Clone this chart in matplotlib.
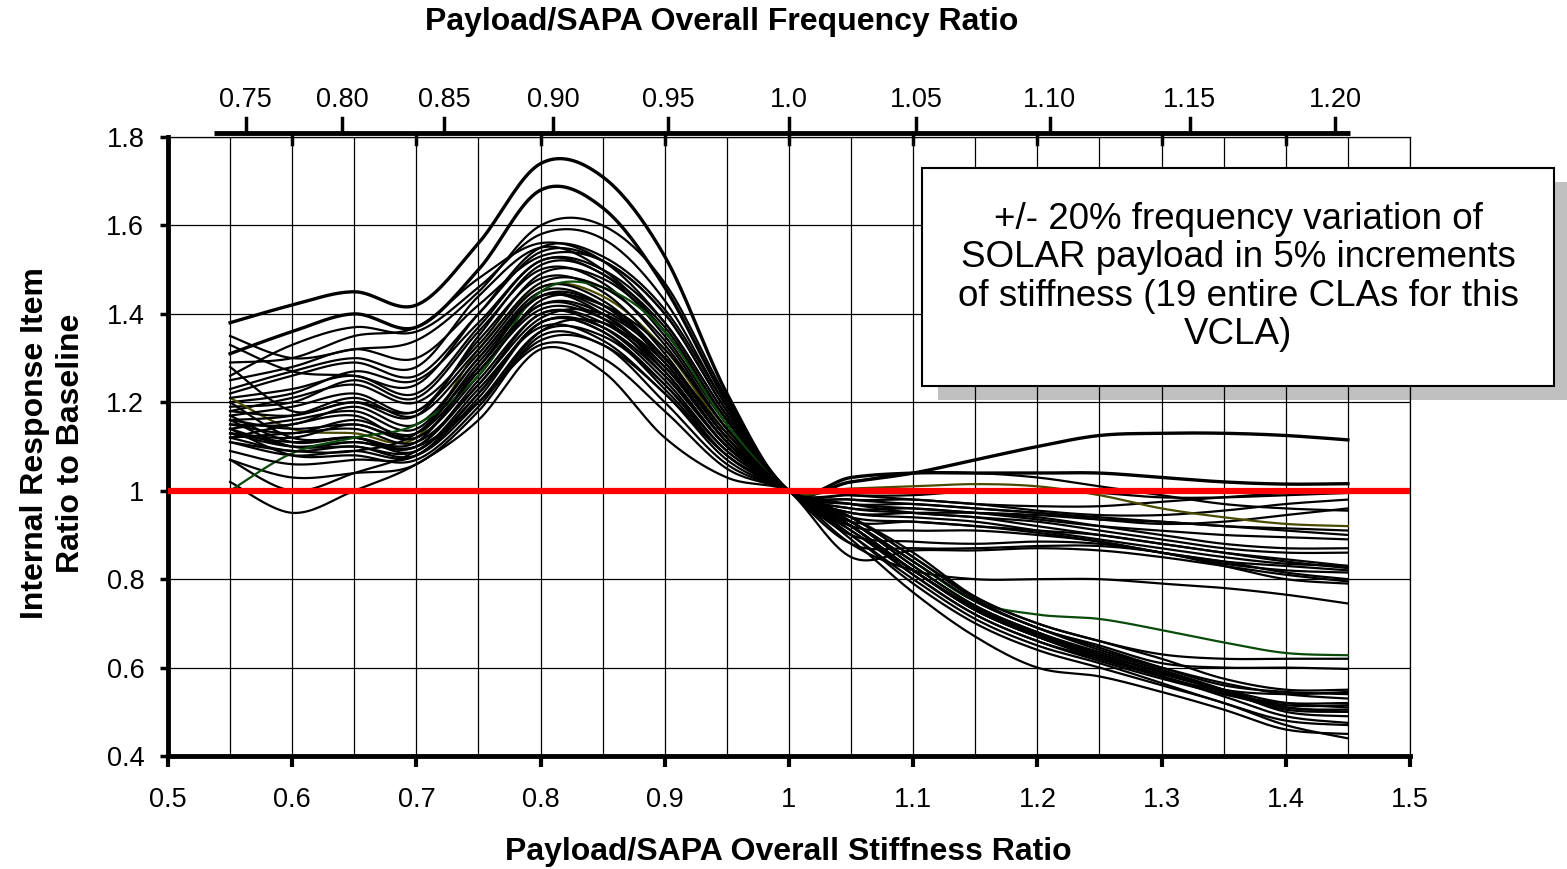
import numpy as np
import matplotlib
matplotlib.use("Agg")
import matplotlib.pyplot as plt
from matplotlib.patches import Rectangle

plt.rcParams['font.family'] = ['Liberation Sans', 'DejaVu Sans']

# stiffness ratio of the 19 CLAs
stiffness = [0.55, 0.60, 0.65, 0.70, 0.75, 0.80, 0.85, 0.90, 0.95, 1.00,
             1.05, 1.10, 1.15, 1.20, 1.25, 1.30, 1.35, 1.40, 1.45]

# response items that stay near baseline above 1.0 stiffness
upper_curves = [
    [1.38, 1.42, 1.45, 1.42, 1.56, 1.74, 1.71, 1.53, 1.22, 1.0, 1.03, 1.04, 1.04, 1.04, 1.04, 1.03, 1.02, 1.015, 1.016],
    [1.31, 1.36, 1.40, 1.37, 1.50, 1.68, 1.64, 1.46, 1.20, 1.0, 1.02, 1.04, 1.07, 1.10, 1.125, 1.13, 1.13, 1.125, 1.115],
    [1.35, 1.30, 1.32, 1.34, 1.45, 1.60, 1.60, 1.47, 1.21, 1.0, 1.02, 1.04, 1.04, 1.03, 1.01, 0.99, 0.97, 0.96, 0.955],
    [1.26, 1.33, 1.37, 1.36, 1.46, 1.58, 1.57, 1.43, 1.19, 1.0, 0.99, 0.99, 1.00, 1.00, 0.995, 0.985, 0.985, 0.99, 0.995],
    [1.29, 1.30, 1.35, 1.37, 1.48, 1.56, 1.52, 1.38, 1.17, 1.0, 0.98, 0.98, 0.97, 0.965, 0.965, 0.975, 0.985, 0.995, 1.0],
    [1.23, 1.27, 1.30, 1.28, 1.44, 1.55, 1.50, 1.36, 1.16, 1.0, 0.99, 0.98, 0.97, 0.955, 0.945, 0.945, 0.955, 0.97, 0.98],
    [1.22, 1.26, 1.29, 1.26, 1.40, 1.54, 1.52, 1.40, 1.18, 1.0, 0.98, 0.97, 0.96, 0.95, 0.935, 0.925, 0.93, 0.945, 0.96],
    [1.20, 1.22, 1.27, 1.25, 1.38, 1.52, 1.50, 1.38, 1.17, 1.0, 0.97, 0.97, 0.96, 0.95, 0.94, 0.93, 0.92, 0.91, 0.90],
    [1.28, 1.18, 1.20, 1.17, 1.35, 1.51, 1.49, 1.35, 1.15, 1.0, 0.97, 0.96, 0.95, 0.935, 0.92, 0.91, 0.90, 0.895, 0.89],
    [1.19, 1.20, 1.25, 1.21, 1.36, 1.50, 1.47, 1.33, 1.14, 1.0, 0.96, 0.96, 0.95, 0.94, 0.92, 0.90, 0.88, 0.87, 0.87],
    [1.18, 1.21, 1.24, 1.20, 1.33, 1.49, 1.48, 1.36, 1.16, 1.0, 0.96, 0.95, 0.94, 0.93, 0.91, 0.89, 0.87, 0.86, 0.86],
    [1.21, 1.14, 1.13, 1.12, 1.32, 1.46, 1.44, 1.32, 1.13, 1.0, 1.005, 1.01, 1.015, 1.01, 0.99, 0.96, 0.94, 0.925, 0.92],
    [1.17, 1.19, 1.22, 1.18, 1.34, 1.48, 1.45, 1.31, 1.12, 1.0, 0.95, 0.95, 0.95, 0.945, 0.935, 0.93, 0.92, 0.915, 0.91],
    [1.16, 1.17, 1.21, 1.17, 1.31, 1.46, 1.43, 1.30, 1.12, 1.0, 0.95, 0.94, 0.93, 0.91, 0.89, 0.87, 0.85, 0.835, 0.83],
    [1.15, 1.15, 1.19, 1.15, 1.30, 1.45, 1.42, 1.29, 1.11, 1.0, 0.94, 0.93, 0.92, 0.905, 0.885, 0.86, 0.84, 0.83, 0.82],
    [1.20, 1.12, 1.12, 1.11, 1.28, 1.44, 1.42, 1.30, 1.12, 1.0, 0.93, 0.93, 0.92, 0.91, 0.90, 0.88, 0.86, 0.84, 0.825],
    [1.14, 1.16, 1.18, 1.14, 1.30, 1.44, 1.40, 1.27, 1.10, 1.0, 0.92, 0.91, 0.91, 0.90, 0.885, 0.86, 0.835, 0.82, 0.815],
    [1.15, 1.13, 1.16, 1.13, 1.27, 1.42, 1.40, 1.28, 1.11, 1.0, 0.90, 0.885, 0.88, 0.885, 0.88, 0.86, 0.84, 0.815, 0.80],
    [1.13, 1.12, 1.15, 1.12, 1.26, 1.43, 1.42, 1.32, 1.14, 1.0, 0.88, 0.87, 0.87, 0.875, 0.875, 0.86, 0.83, 0.80, 0.79],
    [1.17, 1.11, 1.12, 1.10, 1.25, 1.40, 1.38, 1.27, 1.10, 1.0, 0.85, 0.865, 0.865, 0.87, 0.865, 0.85, 0.83, 0.81, 0.795],
    [1.12, 1.13, 1.14, 1.11, 1.24, 1.40, 1.37, 1.25, 1.09, 1.0, 0.88, 0.82, 0.80, 0.80, 0.80, 0.79, 0.78, 0.765, 0.745],
    [1.16, 1.10, 1.11, 1.10, 1.24, 1.39, 1.40, 1.30, 1.13, 1.0, 0.97, 0.95, 0.94, 0.92, 0.90, 0.88, 0.86, 0.845, 0.83],
]

# response items that fall off above 1.0 stiffness
lower_curves = [
    [1.14, 1.10, 1.10, 1.09, 1.22, 1.38, 1.37, 1.26, 1.10, 1.0, 0.89, 0.77, 0.67, 0.60, 0.58, 0.545, 0.505, 0.46, 0.45],
    [1.13, 1.11, 1.12, 1.09, 1.23, 1.37, 1.34, 1.22, 1.08, 1.0, 0.90, 0.79, 0.70, 0.64, 0.60, 0.56, 0.52, 0.47, 0.44],
    [1.12, 1.09, 1.10, 1.08, 1.20, 1.36, 1.35, 1.24, 1.09, 1.0, 0.92, 0.82, 0.73, 0.67, 0.62, 0.58, 0.54, 0.52, 0.52],
    [1.11, 1.08, 1.09, 1.08, 1.22, 1.38, 1.36, 1.23, 1.08, 1.0, 0.93, 0.83, 0.74, 0.68, 0.63, 0.59, 0.55, 0.54, 0.545],
    [1.13, 1.10, 1.11, 1.10, 1.20, 1.34, 1.33, 1.20, 1.06, 1.0, 0.93, 0.84, 0.75, 0.69, 0.645, 0.60, 0.56, 0.545, 0.54],
    [1.07, 1.03, 1.04, 1.06, 1.18, 1.35, 1.33, 1.22, 1.07, 1.0, 0.94, 0.85, 0.76, 0.70, 0.66, 0.62, 0.575, 0.55, 0.55],
    [1.07, 1.00, 1.04, 1.09, 1.20, 1.33, 1.30, 1.18, 1.05, 1.0, 0.92, 0.82, 0.73, 0.67, 0.625, 0.585, 0.55, 0.52, 0.51],
    [1.02, 0.95, 1.00, 1.06, 1.16, 1.32, 1.27, 1.12, 1.03, 1.0, 0.91, 0.81, 0.72, 0.66, 0.615, 0.575, 0.54, 0.51, 0.50],
    [1.00, 1.085, 1.12, 1.15, 1.26, 1.45, 1.46, 1.36, 1.15, 1.0, 0.93, 0.84, 0.75, 0.72, 0.71, 0.685, 0.657, 0.633, 0.628],
    [1.25, 1.28, 1.32, 1.30, 1.42, 1.53, 1.52, 1.40, 1.18, 1.0, 0.92, 0.82, 0.735, 0.675, 0.63, 0.59, 0.545, 0.505, 0.50],
    [1.33, 1.27, 1.26, 1.24, 1.40, 1.55, 1.53, 1.41, 1.19, 1.0, 0.93, 0.83, 0.74, 0.68, 0.635, 0.595, 0.55, 0.50, 0.49],
    [1.11, 1.09, 1.09, 1.13, 1.28, 1.42, 1.39, 1.26, 1.10, 1.0, 0.92, 0.81, 0.72, 0.66, 0.62, 0.58, 0.535, 0.49, 0.475],
    [1.09, 1.06, 1.07, 1.08, 1.21, 1.38, 1.36, 1.24, 1.08, 1.0, 0.94, 0.86, 0.76, 0.70, 0.66, 0.63, 0.62, 0.62, 0.62],
    [1.18, 1.17, 1.20, 1.18, 1.32, 1.47, 1.46, 1.34, 1.14, 1.0, 0.94, 0.85, 0.755, 0.69, 0.65, 0.61, 0.60, 0.60, 0.597],
    [1.12, 1.15, 1.17, 1.12, 1.27, 1.41, 1.39, 1.29, 1.11, 1.0, 0.93, 0.84, 0.75, 0.69, 0.64, 0.60, 0.565, 0.54, 0.53],
    [1.21, 1.23, 1.26, 1.22, 1.37, 1.52, 1.49, 1.37, 1.16, 1.0, 0.91, 0.82, 0.73, 0.67, 0.625, 0.58, 0.545, 0.515, 0.515],
    [1.14, 1.08, 1.08, 1.07, 1.19, 1.36, 1.38, 1.28, 1.11, 1.0, 0.92, 0.82, 0.735, 0.675, 0.63, 0.59, 0.55, 0.51, 0.505],
    [1.16, 1.14, 1.15, 1.13, 1.29, 1.44, 1.41, 1.30, 1.12, 1.0, 0.90, 0.80, 0.71, 0.65, 0.61, 0.565, 0.52, 0.48, 0.47],
]

baseline_x = [0.5, 1.5]
baseline_y = [1.0, 1.0]

freq_labels = ["0.75", "0.80", "0.85", "0.90", "0.95", "1.0", "1.05", "1.10", "1.15", "1.20"]
x_ticks = [0.5, 0.6, 0.7, 0.8, 0.9, 1.0, 1.1, 1.2, 1.3, 1.4, 1.5]
x_ticklabels = ["0.5", "0.6", "0.7", "0.8", "0.9", "1", "1.1", "1.2", "1.3", "1.4", "1.5"]
y_ticks = [0.4, 0.6, 0.8, 1.0, 1.2, 1.4, 1.6, 1.8]
y_ticklabels = ["0.4", "0.6", "0.8", "1", "1.2", "1.4", "1.6", "1.8"]

note = ("+/- 20% frequency variation of\nSOLAR payload in 5% increments\n"
        "of stiffness (19 entire CLAs for this\nVCLA)")


def smooth(x, y, n=20):
    # excel style smoothed line (bezier through the points)
    x = np.asarray(x, float)
    y = np.asarray(y, float)
    px = np.r_[x[0], x, x[-1]]
    py = np.r_[y[0], y, y[-1]]
    t = np.linspace(0, 1, n, endpoint=False)[:, None]
    xs, ys = [], []
    for i in range(1, len(x)):
        p0 = np.array([px[i - 1], py[i - 1]])
        p1 = np.array([px[i], py[i]])
        p2 = np.array([px[i + 1], py[i + 1]])
        p3 = np.array([px[i + 2], py[i + 2]])
        b1 = p1 + (p2 - p0) / 6.0
        b2 = p2 - (p3 - p1) / 6.0
        pts = ((1 - t) ** 3) * p1 + 3 * ((1 - t) ** 2) * t * b1 + 3 * (1 - t) * t ** 2 * b2 + t ** 3 * p2
        xs.append(pts[:, 0])
        ys.append(pts[:, 1])
    xs.append([x[-1]])
    ys.append([y[-1]])
    return np.concatenate(xs), np.concatenate(ys)


fig = plt.figure(figsize=(15.67, 8.69), dpi=100)
ax = fig.add_axes([0.1072, 0.1300, 0.7926, 0.7123])
ax.set_facecolor("none")

for i, row in enumerate(upper_curves):
    sx, sy = smooth(stiffness, row)
    color = "#4a4a00" if i == 11 else "black"
    lw = 2.4 if i < 2 else 1.6
    ax.plot(sx, sy, color=color, lw=lw, zorder=2)

for i, row in enumerate(lower_curves):
    sx, sy = smooth(stiffness, row)
    color = "#0a4a0a" if i == 8 else "black"
    ax.plot(sx, sy, color=color, lw=1.6, zorder=2)

ax.plot(baseline_x, baseline_y, color="#ff0000", lw=4.5, zorder=3, solid_capstyle="butt")

ax.set_xlim(0.5, 1.5)
ax.set_ylim(0.4, 1.8)
ax.set_xticks(x_ticks)
ax.set_xticklabels(x_ticklabels)
ax.set_xticks(np.arange(0.55, 1.5, 0.1), minor=True)
ax.set_yticks(y_ticks)
ax.set_yticklabels(y_ticklabels)
ax.grid(which="both", axis="x", color="black", lw=0.9, zorder=1)
ax.grid(which="major", axis="y", color="black", lw=0.9, zorder=1)
ax.set_axisbelow(True)

ax.tick_params(axis="x", which="major", direction="out", length=8, width=3, labelsize=19.5, pad=14)
ax.tick_params(axis="x", which="minor", length=0)
ax.tick_params(axis="y", direction="out", length=6, width=2.5, labelsize=19.5, pad=11)
for side in ["left", "bottom"]:
    ax.spines[side].set_linewidth(3.5)
for side in ["top", "right"]:
    ax.spines[side].set_linewidth(0.9)

# secondary frequency axis drawn along the top
tr = ax.get_xaxis_transform()
ytop = 1.0065
ax.plot([0.537, 1.452], [ytop, ytop], transform=tr, color="black", lw=3.5, clip_on=False,
        solid_capstyle="butt")
for lab in freq_labels:
    xs = float(lab) ** 2
    ax.plot([xs, xs], [ytop, ytop + 0.024], transform=tr, color="black", lw=2.5, clip_on=False)
    ax.text(xs, ytop + 0.053, lab, transform=tr, ha="center", va="center", fontsize=19.5)
for xs in x_ticks[1:-1]:
    ax.plot([xs, xs], [ytop, ytop - 0.018], transform=tr, color="black", lw=2.5, clip_on=False)

fig.text(722 / 1567, 1 - 22 / 869, "Payload/SAPA Overall Frequency Ratio", ha="center", va="center",
         fontsize=23, fontweight="bold")
fig.text(788 / 1567, 1 - 852 / 869, "Payload/SAPA Overall Stiffness Ratio", ha="center", va="center",
         fontsize=23, fontweight="bold")
fig.text(53 / 1567, 1 - 443 / 869, "Internal Response Item\nRatio to Baseline", ha="center", va="center",
         rotation=90, fontsize=23, fontweight="bold", linespacing=1.3)

# note box with drop shadow
bx, by, bw, bh = 922 / 1567, 1 - 386 / 869, 632 / 1567, 218 / 869
fig.patches.append(Rectangle((bx + 16 / 1567, by - 14 / 869), bw, bh, transform=fig.transFigure,
                             facecolor="#c0c0c0", edgecolor="none", zorder=-1))
fig.patches.append(Rectangle((bx, by), bw, bh, transform=fig.transFigure,
                             facecolor="white", edgecolor="black", lw=1.5, zorder=3))
fig.text(bx + bw / 2, by + bh / 2, note, ha="center", va="center", fontsize=26.5, linespacing=1.12,
         zorder=4)

fig.savefig("out.png", dpi=100)
